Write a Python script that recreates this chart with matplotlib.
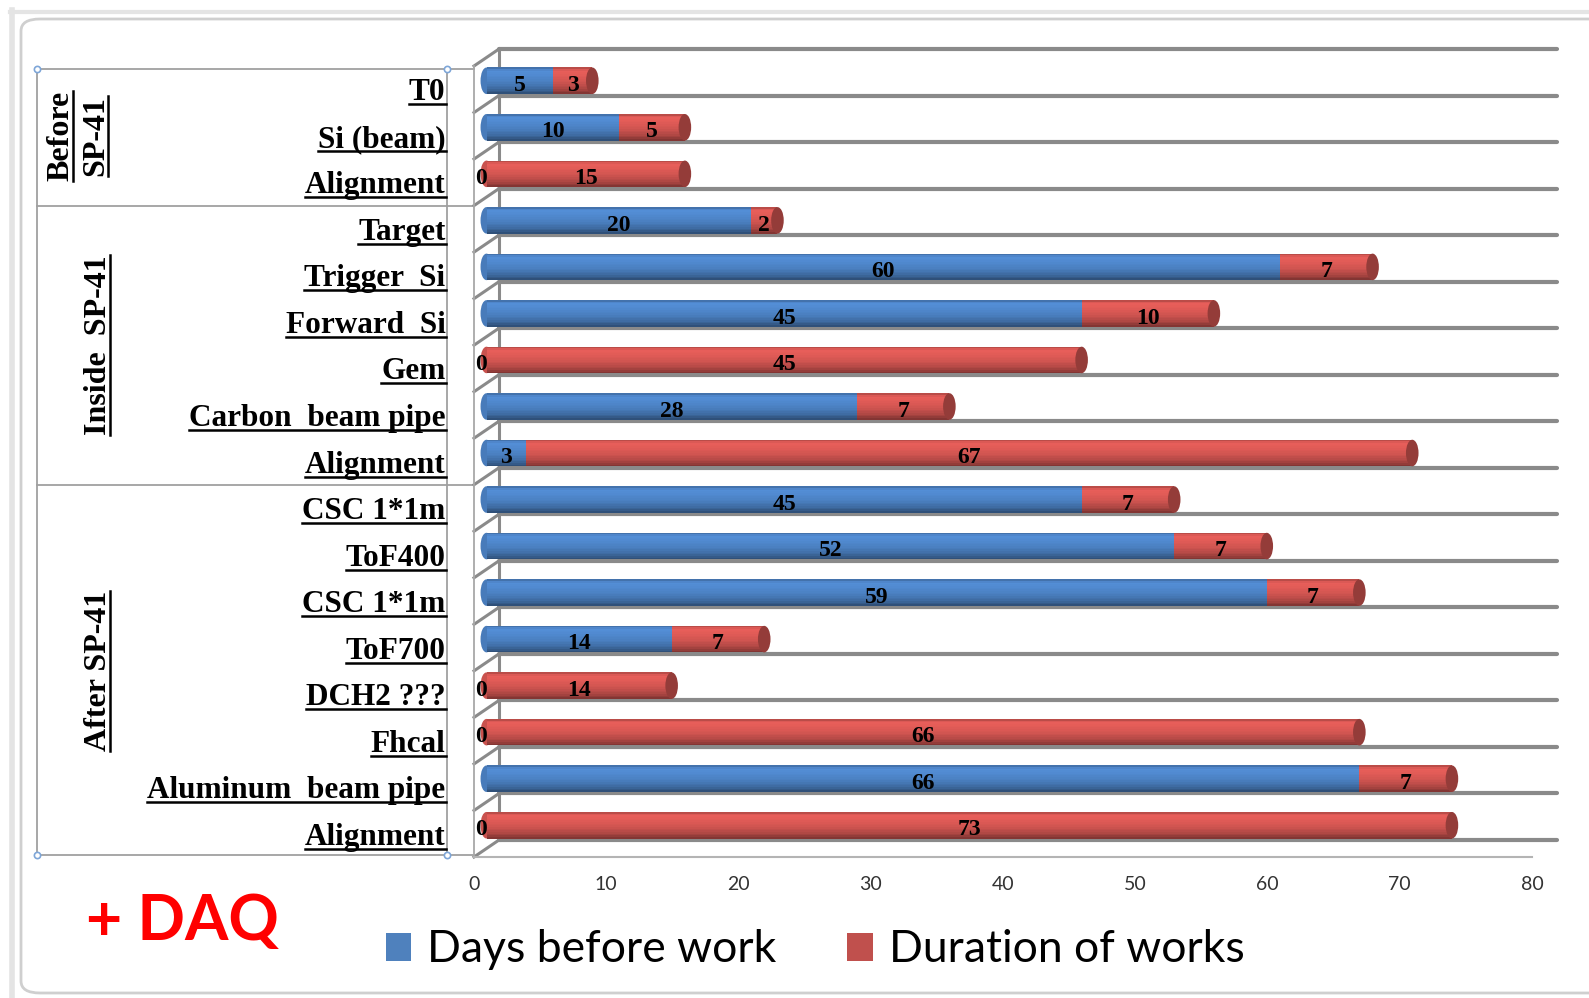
import matplotlib
matplotlib.use("Agg")
import matplotlib.pyplot as plt
import matplotlib.transforms as mtransforms
from matplotlib.transforms import offset_copy
from matplotlib.patches import Ellipse, Patch, FancyBboxPatch
from matplotlib.lines import Line2D
import numpy as np

# ---------------- data ----------------
categories = ["T0", "Si (beam)", "Alignment", "Target", "Trigger  Si", "Forward  Si",
              "Gem", "Carbon  beam pipe", "Alignment", "CSC 1*1m", "ToF400", "CSC 1*1m",
              "ToF700", "DCH2 ???", "Fhcal", "Aluminum  beam pipe", "Alignment"]
days_before = [5, 10, 0, 20, 60, 45, 0, 28, 3, 45, 52, 59, 14, 0, 0, 66, 0]
duration = [3, 5, 15, 2, 7, 10, 45, 7, 67, 7, 7, 7, 7, 14, 66, 7, 73]
series_names = ["Days before work", "Duration of works"]
group_names = [["Before", "SP-41"], ["Inside  SP-41"], ["After SP-41"]]
group_ranges = [(0, 2), (3, 8), (9, 16)]
x_ticks = [0, 10, 20, 30, 40, 50, 60, 70, 80]
note_text = "+ DAQ"

# ---------------- style ----------------
W, H = 1589, 998
BLUE = np.array([76, 130, 196]) / 255
RED = np.array([212, 86, 82]) / 255
LEG_BLUE = "#4F81BD"
LEG_RED = "#C0504D"
SERIF = "Liberation Serif"
SANS = "Lato"
GRID = "#8a8a8a"
DX, DY = 25, 17  # depth offset in pixels

fig = plt.figure(figsize=(W / 100, H / 100), dpi=100)
fig.patch.set_facecolor("white")

def fx(x):
    return x / W

def fy(y):
    return 1 - y / H

# outer chart frame (spreadsheet-like)
fig.add_artist(Line2D([fx(12), fx(12)], [fy(10), fy(996)], color="#e4e4e4", lw=4,
                      transform=fig.transFigure, zorder=-10))
fig.add_artist(Line2D([fx(10), fx(1589)], [fy(12), fy(12)], color="#e4e4e4", lw=3,
                      transform=fig.transFigure, zorder=-10))
frame = FancyBboxPatch((fx(21), fy(993)), fx(1620) - fx(21), fy(19) - fy(993),
                       boxstyle="round,pad=0,rounding_size=0.012",
                       transform=fig.transFigure, facecolor="white",
                       edgecolor="#cfcfcf", lw=2, zorder=-5)
fig.add_artist(frame)

ax_left, ax_right, ax_top, ax_bot = 474, 1532, 66, 857
ax = fig.add_axes([fx(ax_left), fy(ax_bot), fx(ax_right) - fx(ax_left), fy(ax_top) - fy(ax_bot)])
ax.set_facecolor("none")
ax.set_zorder(2)
n = len(categories)
ax.set_xlim(0, 80)
ax.set_ylim(n - 0.5, -0.5)
for s in ax.spines.values():
    s.set_visible(False)

sx = (ax_right - ax_left) / 80.0
sy = (ax_bot - ax_top) / float(n)

back_trans = offset_copy(ax.transData, fig=fig, x=DX, y=DY, units="dots")
bar_trans = offset_copy(ax.transData, fig=fig, x=DX / 2, y=DY / 2, units="dots")

# 3D walls / gridlines
bounds = np.arange(-0.5, n + 0.5, 1.0)
for b in bounds:
    ax.plot([0, 80], [b, b], transform=back_trans, color=GRID, lw=3,
            solid_capstyle="round", clip_on=False, zorder=1)
    ax.plot([0, DX / sx], [b, b - DY / sy], color=GRID, lw=2.2, clip_on=False, zorder=1)
ax.plot([0, 0], [-0.5, n - 0.5], transform=back_trans, color=GRID, lw=2.2, clip_on=False, zorder=1)
ax.plot([0, 0], [-0.5, n - 0.5], color="#a8a8a8", lw=1.3, clip_on=False, zorder=1)
ax.plot([0, 80], [n - 0.5, n - 0.5], color="#b4b4b4", lw=1.5, clip_on=False, zorder=1)

# cylinder-like bars
bh = 0.57
nstrip = 16
prof_t = np.array([0.0, 0.12, 0.3, 0.55, 0.8, 1.0])
prof_v = np.array([0.80, 1.10, 1.06, 0.98, 0.82, 0.58])

def shade(c, f):
    return np.clip(c * f, 0, 1)

ypos = np.arange(n)
for seg_vals, lefts, base in [(days_before, np.zeros(n), BLUE),
                              (duration, np.array(days_before, float), RED)]:
    for k in range(nstrip):
        t = (k + 0.5) / nstrip
        f = np.interp(t, prof_t, prof_v)
        off = -bh / 2 + (k + 0.5) * bh / nstrip
        ax.barh(ypos + off, seg_vals, height=bh / nstrip * 1.02, left=lefts,
                color=shade(base, f), linewidth=0, transform=bar_trans, zorder=3,
                clip_on=False)

totals = np.array(days_before) + np.array(duration)
for i in range(n):
    first = BLUE if days_before[i] > 0 else RED
    last = RED if duration[i] > 0 else BLUE
    ax.add_patch(Ellipse((0, i), 0.9, bh, facecolor=shade(first, 0.95), lw=0,
                         transform=bar_trans, zorder=2.5, clip_on=False))
    ax.add_patch(Ellipse((totals[i], i), 0.95, bh, facecolor=shade(last, 0.70), lw=0,
                         transform=bar_trans, zorder=3.5, clip_on=False))

# data labels
lab_kw = dict(fontfamily=SERIF, fontweight="bold", fontsize=17, color="black",
              ha="center", va="center", transform=bar_trans, zorder=5, clip_on=False)
zero_shift = -5.0 / sx
for i in range(n):
    x1 = days_before[i] / 2.0 + (zero_shift if days_before[i] == 0 else 0)
    ax.text(x1, i + 0.1, str(days_before[i]), **lab_kw)
    ax.text(days_before[i] + duration[i] / 2.0, i + 0.1, str(duration[i]), **lab_kw)

# axes ticks
ax.set_xticks(x_ticks)
ax.set_xticklabels([str(v) for v in x_ticks], fontfamily=SANS, fontsize=14, color="#333333")
ax.tick_params(axis="x", length=0, pad=14)
ax.set_yticks(ypos)
ax.set_yticklabels(categories, fontfamily=SERIF, fontweight="bold", fontsize=22.5, color="black")
ax.tick_params(axis="y", length=0, pad=20.5)

# table frame at left
tcol = "#a0a0a0"
t_top, t_bot, t_l, t_r = 69, ax_bot - 2, 37, 447
fig.add_artist(Line2D([fx(t_l), fx(ax_left)], [fy(t_top), fy(t_top)], color=tcol, lw=1.3, transform=fig.transFigure))
fig.add_artist(Line2D([fx(t_l), fx(ax_left)], [fy(t_bot), fy(t_bot)], color=tcol, lw=1.3, transform=fig.transFigure))
fig.add_artist(Line2D([fx(t_l), fx(t_l)], [fy(t_top), fy(t_bot)], color=tcol, lw=1.3, transform=fig.transFigure))
fig.add_artist(Line2D([fx(t_r), fx(t_r)], [fy(t_top), fy(t_bot)], color=tcol, lw=1.3, transform=fig.transFigure))
blend = mtransforms.blended_transform_factory(fig.transFigure, ax.transData)
for (a, b) in group_ranges[:-1]:
    fig.add_artist(Line2D([fx(t_l), fx(ax_left)], [b + 0.5, b + 0.5], color=tcol, lw=1.3, transform=blend))
for (xx, yy) in [(t_l, t_top), (t_r, t_top), (t_l, t_bot), (t_r, t_bot)]:
    fig.add_artist(Line2D([fx(xx)], [fy(yy)], marker="o", ms=4.5, mfc="white", mec="#7ea6d8",
                          mew=1.2, transform=fig.transFigure, zorder=6))

# group labels (rotated)
group_texts = []
for names, (a, b) in zip(group_names, group_ranges):
    yc = (a + b) / 2.0
    if len(names) == 2:
        xs = [61, 96]
    else:
        xs = [98]
    for nm, xx in zip(names, xs):
        t = fig.text(fx(xx), yc, nm, transform=blend, rotation=90, ha="center", va="center",
                     fontfamily=SERIF, fontweight="bold", fontsize=23)
        group_texts.append(t)

# note
fig.text(fx(86), fy(940), note_text, color="#ff0000", fontfamily=SANS, fontweight="bold",
         fontsize=45, ha="left", va="baseline")

# legend
handles = [Patch(facecolor=LEG_BLUE, edgecolor="none"), Patch(facecolor=LEG_RED, edgecolor="none")]
fig.legend(handles, series_names, loc="center", bbox_to_anchor=(fx(815), fy(950)), ncol=2,
           frameon=False, prop={"family": SANS, "size": 32}, handlelength=0.58,
           handleheight=0.58, handletextpad=0.35, columnspacing=1.6)

# underlines
fig.canvas.draw()
r = fig.canvas.get_renderer()
for t in ax.get_yticklabels():
    bb = t.get_window_extent(r)
    yy = bb.y0 + 3
    fig.add_artist(Line2D([bb.x0 / W, bb.x1 / W], [yy / H, yy / H], color="black", lw=1.8,
                          transform=fig.transFigure, zorder=6))
for t in group_texts:
    bb = t.get_window_extent(r)
    xx = bb.x1 - 3
    fig.add_artist(Line2D([xx / W, xx / W], [bb.y0 / H, bb.y1 / H], color="black", lw=1.8,
                          transform=fig.transFigure, zorder=6))

fig.savefig("out.png", dpi=100)
